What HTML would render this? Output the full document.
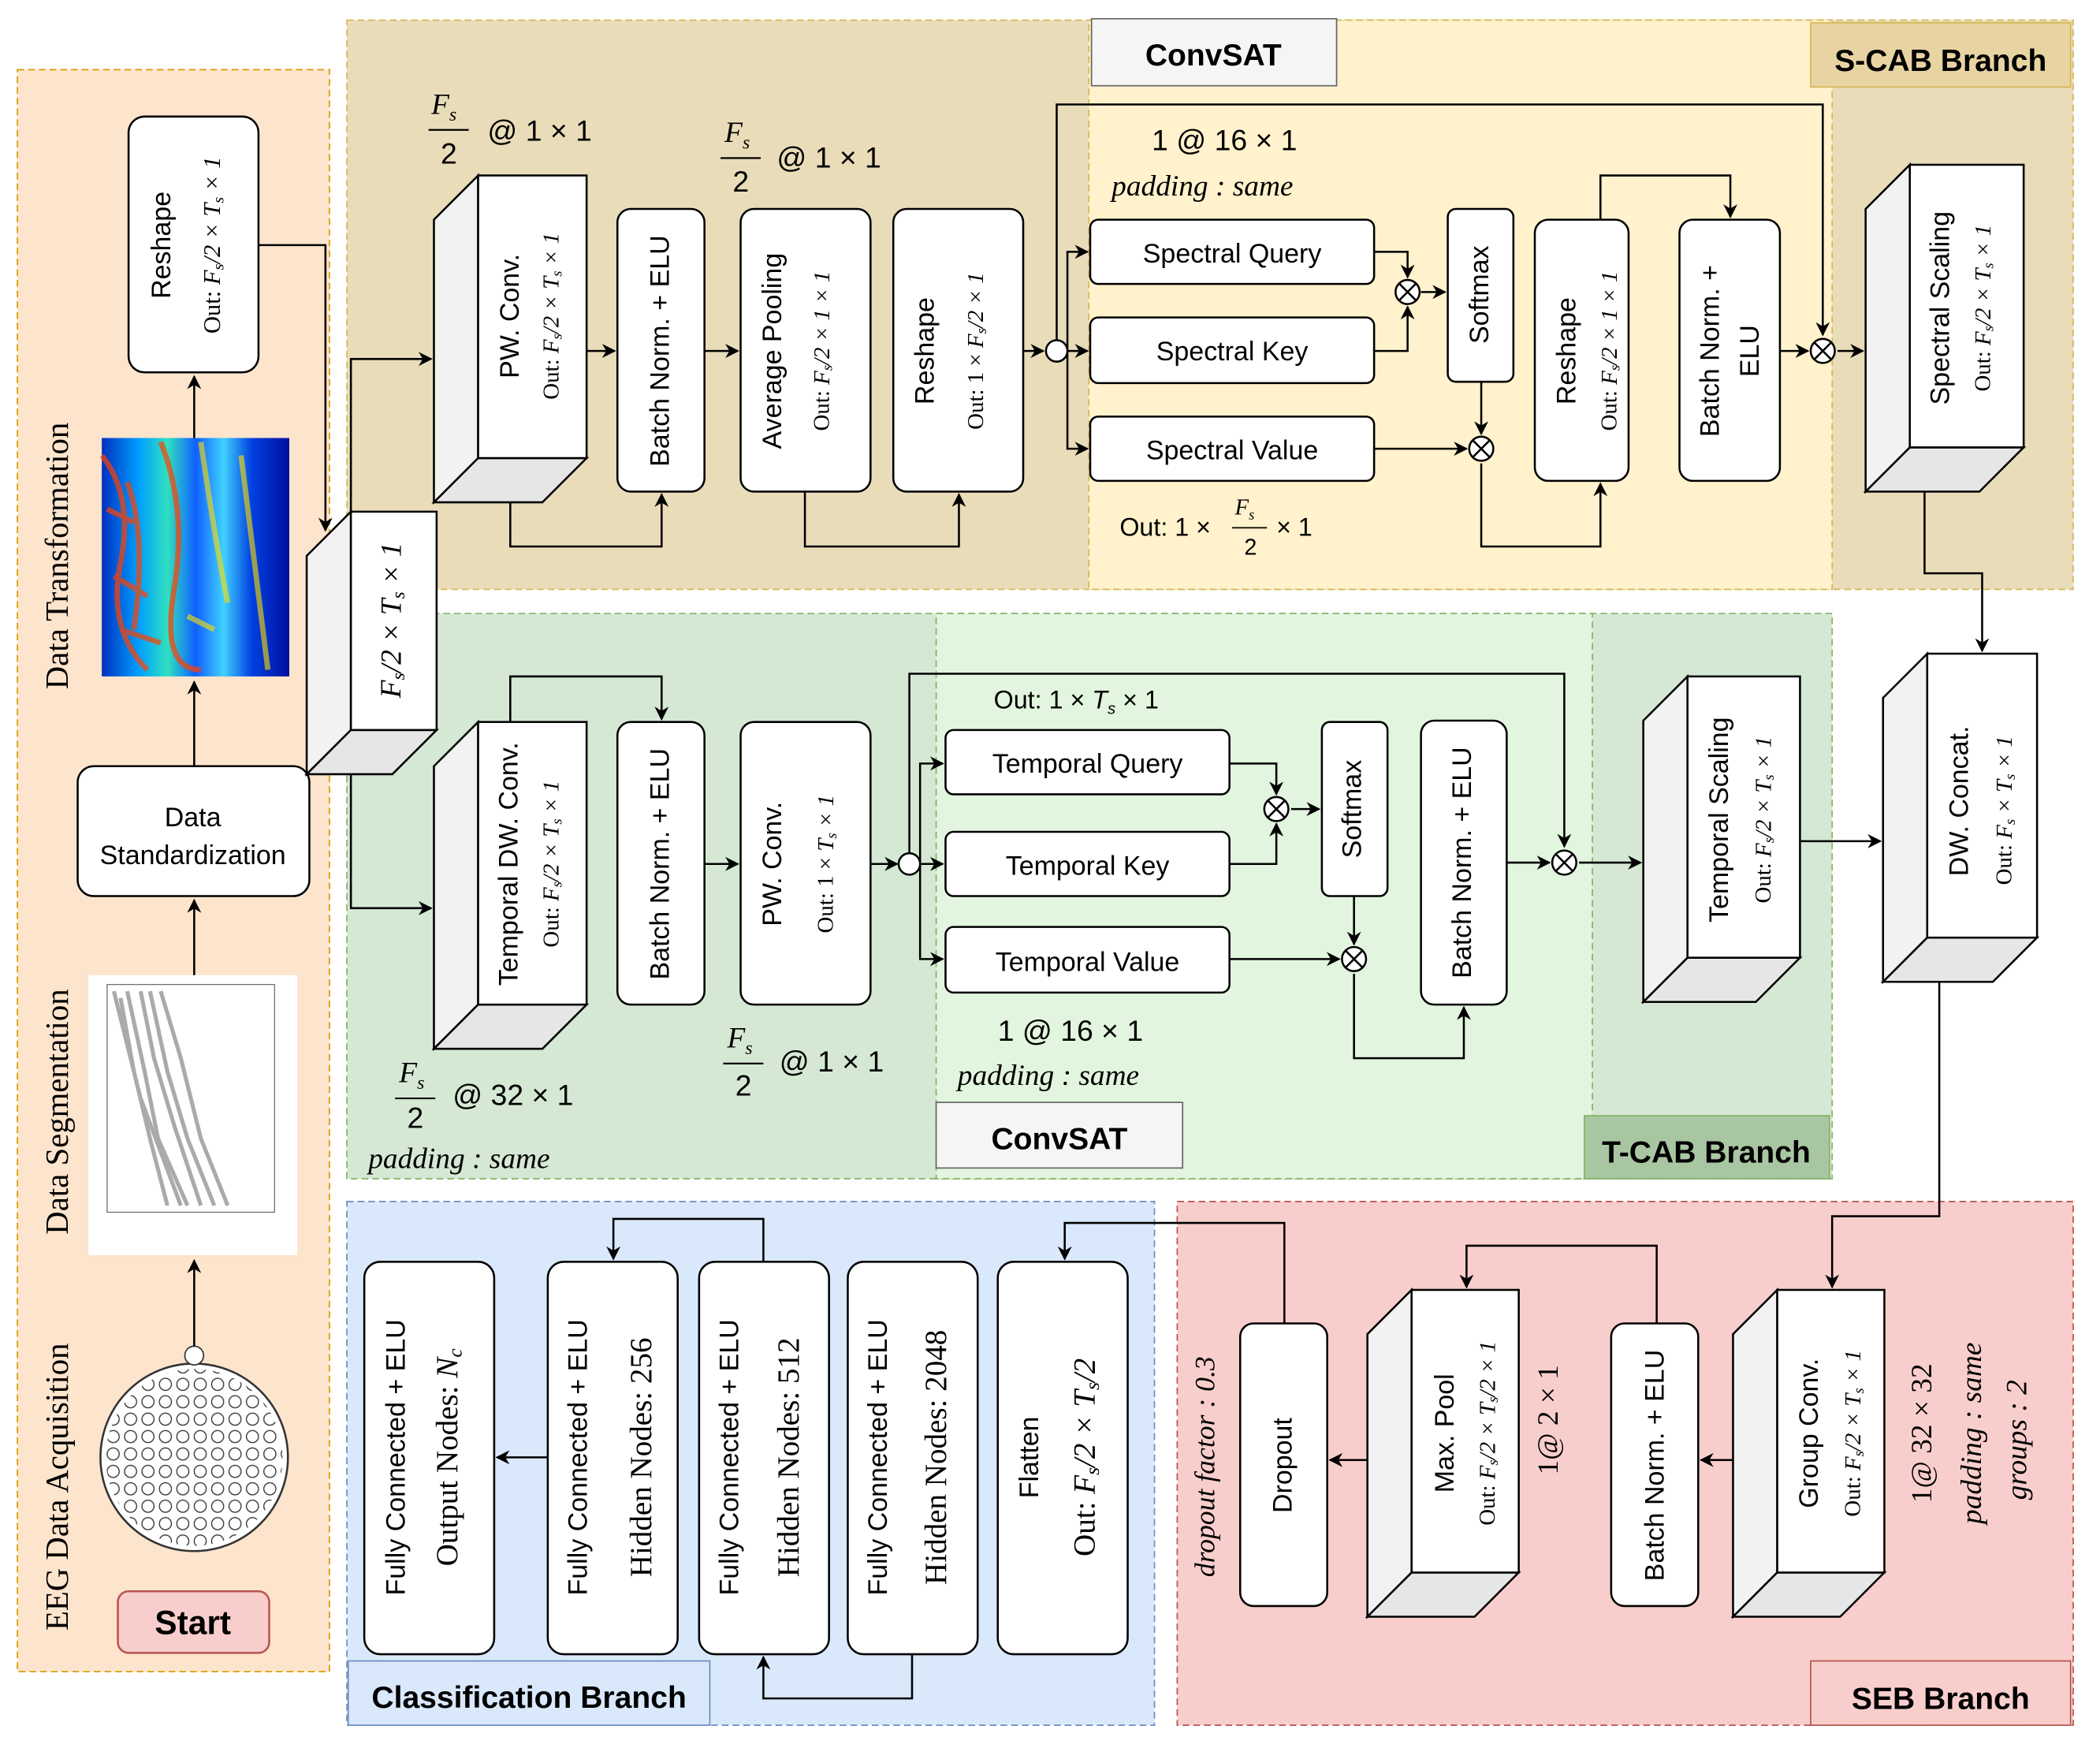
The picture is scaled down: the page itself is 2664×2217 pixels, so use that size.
<!DOCTYPE html>
<html><head><meta charset="utf-8"><style>
html,body{margin:0;padding:0;background:#fff}
svg{display:block}
text{font-family:"Liberation Sans",sans-serif;fill:#000}
.m{font-family:"Liberation Serif",serif}
.i{font-family:"Liberation Serif",serif;font-style:italic}
.bx{fill:#fff;stroke:#000;stroke-width:1.5}
.ln{fill:none;stroke:#000;stroke-width:1.5}
</style></head><body>
<svg width="2664" height="2217" viewBox="0 0 1568 1305" preserveAspectRatio="none" xmlns="http://www.w3.org/2000/svg">
<defs>
<marker id="a" viewBox="0 0 10 10" refX="9" refY="5" markerWidth="7" markerHeight="7" orient="auto"><path d="M0,0 L10,5 L0,10 L3,5z" fill="#000"/></marker>
<linearGradient id="jet" x1="0" x2="1" y1="0" y2="0">
<stop offset="0" stop-color="#0030c0"/><stop offset="0.2" stop-color="#00a0ff"/><stop offset="0.35" stop-color="#30e0c0"/><stop offset="0.5" stop-color="#1060ff"/><stop offset="0.65" stop-color="#40d0ff"/><stop offset="0.8" stop-color="#0040e0"/><stop offset="1" stop-color="#0010a0"/></linearGradient>
<pattern id="el" width="13" height="13" patternUnits="userSpaceOnUse"><circle cx="6.5" cy="6.5" r="4.5" fill="#fff" stroke="#333" stroke-width="0.8"/></pattern>
</defs>

<rect x="13" y="52" width="233" height="1196" fill="#fde4cd" stroke="#d79b00" stroke-dasharray="5,3"/>
<rect x="259" y="15" width="1289" height="425" fill="#e9dcb9" stroke="#d6b656" stroke-dasharray="5,3"/>
<rect x="813" y="15" width="555" height="425" fill="#fff2cc" stroke="#d6b656" stroke-dasharray="5,3"/>
<rect x="1352" y="17" width="194" height="48" fill="#e8d4a2" stroke="#d6b656"/>
<text x="1449" y="53" text-anchor="middle" font-size="23" font-weight="bold">S-CAB Branch</text>
<rect x="815" y="14" width="183" height="50" fill="#f5f5f5" stroke="#666"/>
<text x="906" y="49" text-anchor="middle" font-size="23" font-weight="bold" fill="#333">ConvSAT</text>

<rect x="259" y="458" width="1109" height="422" fill="#d5e8d4" stroke="#82b366" stroke-dasharray="5,3"/>
<rect x="699" y="458" width="490" height="422" fill="#e2f5de" stroke="#82b366" stroke-dasharray="5,3"/>
<rect x="1183" y="833" width="183" height="47" fill="#a9c6a2" stroke="#82b366"/>
<text x="1274" y="868" text-anchor="middle" font-size="23" font-weight="bold">T-CAB Branch</text>
<rect x="699" y="823" width="184" height="49" fill="#f5f5f5" stroke="#666"/>
<text x="791" y="858" text-anchor="middle" font-size="23" font-weight="bold" fill="#333">ConvSAT</text>

<rect x="259" y="897" width="603" height="391" fill="#dae8fc" stroke="#6c8ebf" stroke-dasharray="5,3"/>
<rect x="260" y="1240" width="270" height="48" fill="#dae8fc" stroke="#6c8ebf"/>
<text x="395" y="1275" text-anchor="middle" font-size="23" font-weight="bold">Classification Branch</text>
<rect x="879" y="897" width="669" height="391" fill="#f8cecc" stroke="#b85450" stroke-dasharray="5,3"/>
<rect x="1352" y="1240" width="194" height="48" fill="#f8cecc" stroke="#b85450"/>
<text x="1449" y="1276" text-anchor="middle" font-size="23" font-weight="bold">SEB Branch</text>

<text class="m" transform="rotate(-90 45 415)" x="45" y="415" text-anchor="middle" dominant-baseline="middle" font-size="24">Data Transformation</text>
<text class="m" transform="rotate(-90 45 830)" x="45" y="830" text-anchor="middle" dominant-baseline="middle" font-size="24">Data Segmentation</text>
<text class="m" transform="rotate(-90 45 1110)" x="45" y="1110" text-anchor="middle" dominant-baseline="middle" font-size="24">EEG Data Acquisition</text>

<rect class="bx" x="96" y="87" width="97" height="191" rx="12"/>
<text transform="rotate(-90 122 183)" x="122" y="183" text-anchor="middle" dominant-baseline="middle" font-size="20">Reshape</text>
<text class="m" transform="rotate(-90 160 183)" x="160" y="183" text-anchor="middle" dominant-baseline="middle" font-size="18">Out: <tspan font-style="italic">F<tspan font-size="12" dy="4">s</tspan><tspan dy="-4">/2 × T</tspan><tspan font-size="12" dy="4">s</tspan><tspan dy="-4"> × 1</tspan></tspan></text>
<rect x="76" y="327" width="140" height="178" fill="url(#jet)"/>
<path d="M76,340 Q100,370 90,420 T110,500 M120,330 Q140,380 130,440 T150,500 M95,360 Q110,400 100,470 M80,380 L100,390 M85,430 L110,445 M90,470 L120,480" stroke="#ff4000" stroke-width="4" fill="none" opacity="0.7"/>
<path d="M150,330 Q160,400 170,450 M180,340 Q190,420 200,500 M140,460 L160,470" stroke="#ffe000" stroke-width="4" fill="none" opacity="0.6"/>
<rect class="bx" x="58" y="572" width="173" height="97" rx="12"/>
<text x="144" y="617" text-anchor="middle" font-size="20">Data</text>
<text x="144" y="645" text-anchor="middle" font-size="20">Standardization</text>
<rect x="66" y="728" width="156" height="209" fill="#fff"/>
<rect x="80" y="735" width="125" height="170" fill="none" stroke="#666" stroke-width="0.7"/>
<path d="M85,740 L95,780 L105,820 L120,860 L135,900 M105,740 L115,790 L130,840 L150,900 M120,740 L135,790 L150,850 L170,900 M90,745 L100,800 L112,850 L125,900 M95,740 L108,800 L118,850 L140,900 M112,740 L125,800 L140,850 L160,900" stroke="#555" stroke-width="3" fill="none" opacity="0.5"/>
<circle cx="145" cy="1088" r="70" fill="#fff" stroke="#333" stroke-width="1.5"/>
<circle cx="145" cy="1088" r="66" fill="url(#el)"/>
<circle cx="145" cy="1012" r="7" fill="#fff" stroke="#333"/>
<rect x="88" y="1188" width="113" height="46" rx="8" fill="#f8cecc" stroke="#b85450" stroke-width="1.5"/>
<text x="144" y="1220" text-anchor="middle" font-size="25" font-weight="bold">Start</text>

<g class="ln" marker-end="url(#a)">
<path d="M145,572 V509"/><path d="M145,327 V281"/><path d="M145,728 V672"/><path d="M145,1005 V941"/>
</g>

<g stroke="#000" stroke-width="1.5">
<path d="M229,415 L262,382 L262,545 L229,578Z" fill="#f2f2f2"/><path d="M229,578 L262,545 L326,545 L293,578Z" fill="#e6e6e6"/><rect x="262" y="382" width="64" height="163" fill="#fff"/>
<path d="M324,164 L357,131 L357,342 L324,375Z" fill="#f2f2f2"/><path d="M324,375 L357,342 L438,342 L405,375Z" fill="#e6e6e6"/><rect x="357" y="131" width="81" height="211" fill="#fff"/>
<path d="M1393,156 L1426,123 L1426,334 L1393,367Z" fill="#f2f2f2"/><path d="M1393,367 L1426,334 L1511,334 L1478,367Z" fill="#e6e6e6"/><rect x="1426" y="123" width="85" height="211" fill="#fff"/>
<path d="M324,572 L357,539 L357,750 L324,783Z" fill="#f2f2f2"/><path d="M324,783 L357,750 L438,750 L405,783Z" fill="#e6e6e6"/><rect x="357" y="539" width="81" height="211" fill="#fff"/>
<path d="M1227,538 L1260,505 L1260,715 L1227,748Z" fill="#f2f2f2"/><path d="M1227,748 L1260,715 L1344,715 L1311,748Z" fill="#e6e6e6"/><rect x="1260" y="505" width="84" height="210" fill="#fff"/>
<path d="M1406,521 L1439,488 L1439,700 L1406,733Z" fill="#f2f2f2"/><path d="M1406,733 L1439,700 L1521,700 L1488,733Z" fill="#e6e6e6"/><rect x="1439" y="488" width="82" height="212" fill="#fff"/>
<path d="M1021,996 L1054,963 L1054,1174 L1021,1207Z" fill="#f2f2f2"/><path d="M1021,1207 L1054,1174 L1134,1174 L1101,1207Z" fill="#e6e6e6"/><rect x="1054" y="963" width="80" height="211" fill="#fff"/>
<path d="M1294,996 L1327,963 L1327,1174 L1294,1207Z" fill="#f2f2f2"/><path d="M1294,1207 L1327,1174 L1407,1174 L1374,1207Z" fill="#e6e6e6"/><rect x="1327" y="963" width="80" height="211" fill="#fff"/>
</g>

<g>
<rect class="bx" x="461" y="156" width="65" height="211" rx="10"/>
<rect class="bx" x="553" y="156" width="97" height="211" rx="10"/>
<rect class="bx" x="667" y="156" width="97" height="211" rx="10"/>
<rect class="bx" x="814" y="164" width="212" height="48" rx="6"/>
<rect class="bx" x="814" y="237" width="212" height="49" rx="6"/>
<rect class="bx" x="814" y="311" width="212" height="48" rx="6"/>
<rect class="bx" x="1081" y="156" width="49" height="129" rx="6"/>
<rect class="bx" x="1146" y="164" width="70" height="195" rx="10"/>
<rect class="bx" x="1254" y="164" width="75" height="195" rx="10"/>
<rect class="bx" x="461" y="539" width="65" height="211" rx="10"/>
<rect class="bx" x="553" y="539" width="97" height="211" rx="10"/>
<rect class="bx" x="706" y="545" width="212" height="48" rx="6"/>
<rect class="bx" x="706" y="621" width="212" height="48" rx="6"/>
<rect class="bx" x="706" y="692" width="212" height="49" rx="6"/>
<rect class="bx" x="987" y="539" width="49" height="130" rx="6"/>
<rect class="bx" x="1061" y="538" width="64" height="212" rx="10"/>
<rect class="bx" x="272" y="942" width="97" height="293" rx="12"/>
<rect class="bx" x="409" y="942" width="97" height="293" rx="12"/>
<rect class="bx" x="522" y="942" width="97" height="293" rx="12"/>
<rect class="bx" x="633" y="942" width="97" height="293" rx="12"/>
<rect class="bx" x="745" y="942" width="97" height="293" rx="12"/>
<rect class="bx" x="926" y="988" width="65" height="211" rx="10"/>
<rect class="bx" x="1203" y="988" width="65" height="211" rx="10"/>
</g>

<g font-size="20" text-anchor="middle">
<text x="920" y="196">Spectral Query</text>
<text x="920" y="269">Spectral Key</text>
<text x="920" y="343">Spectral Value</text>
<text x="812" y="577">Temporal Query</text>
<text x="812" y="653">Temporal Key</text>
<text x="812" y="725">Temporal Value</text>
</g>

<g font-size="20" text-anchor="middle" dominant-baseline="middle">
<text transform="rotate(-90 382 236)" x="382" y="236">PW. Conv.</text>
<text class="m" font-size="17" transform="rotate(-90 413 236)" x="413" y="236">Out: <tspan font-style="italic">F<tspan font-size="11" dy="4">s</tspan><tspan dy="-4">/2 × T</tspan><tspan font-size="11" dy="4">s</tspan><tspan dy="-4"> × 1</tspan></tspan></text>
<text transform="rotate(-90 494 262)" x="494" y="262">Batch Norm. + ELU</text>
<text transform="rotate(-90 578 262)" x="578" y="262">Average Pooling</text>
<text class="m" font-size="17" transform="rotate(-90 615 262)" x="615" y="262">Out: <tspan font-style="italic">F<tspan font-size="11" dy="4">s</tspan><tspan dy="-4">/2 × 1 × 1</tspan></tspan></text>
<text transform="rotate(-90 692 262)" x="692" y="262">Reshape</text>
<text class="m" font-size="17" transform="rotate(-90 730 262)" x="730" y="262">Out: 1 × <tspan font-style="italic">F<tspan font-size="11" dy="4">s</tspan><tspan dy="-4">/2 × 1</tspan></tspan></text>
<text transform="rotate(-90 1106 220)" x="1106" y="220">Softmax</text>
<text transform="rotate(-90 1171 262)" x="1171" y="262">Reshape</text>
<text class="m" font-size="17" transform="rotate(-90 1203 262)" x="1203" y="262">Out: <tspan font-style="italic">F<tspan font-size="11" dy="4">s</tspan><tspan dy="-4">/2 × 1 × 1</tspan></tspan></text>
<text transform="rotate(-90 1278 262)" x="1278" y="262">Batch Norm. +</text>
<text transform="rotate(-90 1308 262)" x="1308" y="262">ELU</text>
<text transform="rotate(-90 1450 230)" x="1450" y="230">Spectral Scaling</text>
<text class="m" font-size="17" transform="rotate(-90 1482 230)" x="1482" y="230">Out: <tspan font-style="italic">F<tspan font-size="11" dy="4">s</tspan><tspan dy="-4">/2 × T</tspan><tspan font-size="11" dy="4">s</tspan><tspan dy="-4"> × 1</tspan></tspan></text>
<text class="i" font-size="22" transform="rotate(-90 294 463)" x="294" y="463">F<tspan font-size="14" dy="5">s</tspan><tspan dy="-5">/2 × T</tspan><tspan font-size="14" dy="5">s</tspan><tspan dy="-5"> × 1</tspan></text>

<text transform="rotate(-90 381 645)" x="381" y="645">Temporal DW. Conv.</text>
<text class="m" font-size="17" transform="rotate(-90 413 645)" x="413" y="645">Out: <tspan font-style="italic">F<tspan font-size="11" dy="4">s</tspan><tspan dy="-4">/2 × T</tspan><tspan font-size="11" dy="4">s</tspan><tspan dy="-4"> × 1</tspan></tspan></text>
<text transform="rotate(-90 494 645)" x="494" y="645">Batch Norm. + ELU</text>
<text transform="rotate(-90 578 645)" x="578" y="645">PW. Conv.</text>
<text class="m" font-size="17" transform="rotate(-90 618 645)" x="618" y="645">Out: 1 × <tspan font-style="italic">T<tspan font-size="11" dy="4">s</tspan><tspan dy="-4"> × 1</tspan></tspan></text>
<text transform="rotate(-90 1011 604)" x="1011" y="604">Softmax</text>
<text transform="rotate(-90 1093 644)" x="1093" y="644">Batch Norm. + ELU</text>
<text transform="rotate(-90 1285 612)" x="1285" y="612">Temporal Scaling</text>
<text class="m" font-size="17" transform="rotate(-90 1318 612)" x="1318" y="612">Out: <tspan font-style="italic">F<tspan font-size="11" dy="4">s</tspan><tspan dy="-4">/2 × T</tspan><tspan font-size="11" dy="4">s</tspan><tspan dy="-4"> × 1</tspan></tspan></text>
<text transform="rotate(-90 1464 598)" x="1464" y="598">DW. Concat.</text>
<text class="m" font-size="17" transform="rotate(-90 1498 605)" x="1498" y="605">Out: <tspan font-style="italic">F<tspan font-size="11" dy="4">s</tspan><tspan dy="-4"> × T</tspan><tspan font-size="11" dy="4">s</tspan><tspan dy="-4"> × 1</tspan></tspan></text>

<text transform="rotate(-90 297 1088)" x="297" y="1088">Fully Connected + ELU</text>
<text class="m" font-size="23" transform="rotate(-90 336 1088)" x="336" y="1088">Output Nodes: <tspan font-style="italic">N<tspan font-size="15" dy="5">c</tspan></tspan></text>
<text transform="rotate(-90 433 1088)" x="433" y="1088">Fully Connected + ELU</text>
<text class="m" font-size="23" transform="rotate(-90 481 1088)" x="481" y="1088">Hidden Nodes: 256</text>
<text transform="rotate(-90 546 1088)" x="546" y="1088">Fully Connected + ELU</text>
<text class="m" font-size="23" transform="rotate(-90 591 1088)" x="591" y="1088">Hidden Nodes: 512</text>
<text transform="rotate(-90 657 1088)" x="657" y="1088">Fully Connected + ELU</text>
<text class="m" font-size="23" transform="rotate(-90 701 1088)" x="701" y="1088">Hidden Nodes: 2048</text>
<text transform="rotate(-90 770 1088)" x="770" y="1088">Flatten</text>
<text class="m" font-size="23" transform="rotate(-90 812 1088)" x="812" y="1088">Out: <tspan font-style="italic">F<tspan font-size="15" dy="5">s</tspan><tspan dy="-5">/2 × T</tspan><tspan font-size="15" dy="5">s</tspan><tspan dy="-5">/2</tspan></tspan></text>

<text class="i" font-size="21" transform="rotate(-90 902 1095)" x="902" y="1095">dropout factor : 0.3</text>
<text transform="rotate(-90 959 1094)" x="959" y="1094">Dropout</text>
<text transform="rotate(-90 1080 1070)" x="1080" y="1070">Max. Pool</text>
<text class="m" font-size="17" transform="rotate(-90 1112 1070)" x="1112" y="1070">Out: <tspan font-style="italic">F<tspan font-size="11" dy="4">s</tspan><tspan dy="-4">/2 × T</tspan><tspan font-size="11" dy="4">s</tspan><tspan dy="-4">/2 × 1</tspan></tspan></text>
<text class="m" font-size="22" transform="rotate(-90 1158 1060)" x="1158" y="1060">1@ 2 × 1</text>
<text transform="rotate(-90 1237 1094)" x="1237" y="1094">Batch Norm. + ELU</text>
<text transform="rotate(-90 1352 1070)" x="1352" y="1070">Group Conv.</text>
<text class="m" font-size="17" transform="rotate(-90 1385 1070)" x="1385" y="1070">Out: <tspan font-style="italic">F<tspan font-size="11" dy="4">s</tspan><tspan dy="-4">/2 × T</tspan><tspan font-size="11" dy="4">s</tspan><tspan dy="-4"> × 1</tspan></tspan></text>
<text class="m" font-size="22" transform="rotate(-90 1437 1070)" x="1437" y="1070">1@ 32 × 32</text>
<text class="i" font-size="22" transform="rotate(-90 1474 1070)" x="1474" y="1070">padding : same</text>
<text class="i" font-size="22" transform="rotate(-90 1508 1075)" x="1508" y="1075">groups : 2</text>
</g>

<g class="m" font-size="22">
<text class="i" x="322" y="85">F<tspan font-size="14" dy="5">s</tspan></text><line x1="320" y1="97" x2="350" y2="97" stroke="#000" stroke-width="1.3"/><text x="329" y="122">2</text>
<text x="364" y="105">@ 1 × 1</text>
<text class="i" x="541" y="106">F<tspan font-size="14" dy="5">s</tspan></text><line x1="538" y1="118" x2="568" y2="118" stroke="#000" stroke-width="1.3"/><text x="547" y="143">2</text>
<text x="580" y="125">@ 1 × 1</text>
<text x="860" y="112">1 @ 16 × 1</text>
<text class="i" x="830" y="146">padding : same</text>
<text font-size="19" x="836" y="400">Out: 1 × </text><text class="i" font-size="17" x="922" y="384">F<tspan font-size="11" dy="4">s</tspan></text><line x1="920" y1="394" x2="946" y2="394" stroke="#000"/><text font-size="17" x="929" y="414">2</text><text font-size="19" x="953" y="400">× 1</text>
<text font-size="19" x="742" y="529">Out: 1 × <tspan font-style="italic">T<tspan font-size="12" dy="4">s</tspan></tspan><tspan dy="-4"> × 1</tspan></text>
<text class="i" x="298" y="808">F<tspan font-size="14" dy="5">s</tspan></text><line x1="295" y1="820" x2="325" y2="820" stroke="#000" stroke-width="1.3"/><text x="304" y="842">2</text>
<text x="338" y="825">@ 32 × 1</text>
<text class="i" x="275" y="872">padding : same</text>
<text class="i" x="543" y="782">F<tspan font-size="14" dy="5">s</tspan></text><line x1="540" y1="794" x2="570" y2="794" stroke="#000" stroke-width="1.3"/><text x="549" y="818">2</text>
<text x="582" y="800">@ 1 × 1</text>
<text x="745" y="777">1 @ 16 × 1</text>
<text class="i" x="715" y="810">padding : same</text>
</g>

<g class="ln" marker-end="url(#a)">
<path d="M193,183 H243 V396"/>
<path d="M262,382 V268 H322"/>
<path d="M262,578 V678 H322"/>
<path d="M381,375 V408 H494 V369"/>
<path d="M438,262 H459"/>
<path d="M526,262 H551"/>
<path d="M601,367 V408 H716 V369"/>
<path d="M764,262 H779"/>
<path d="M789,254 V78 H1361 V250"/>
<path d="M797,262 H812"/>
<path d="M797,262 V188 H812"/>
<path d="M797,262 V335 H812"/>
<path d="M1026,188 H1051 V207"/>
<path d="M1026,262 H1051 V229"/>
<path d="M1061,218 H1079"/>
<path d="M1106,285 V324"/>
<path d="M1026,335 H1095"/>
<path d="M1106,346 V408 H1195 V361"/>
<path d="M1195,164 V131 H1292 V162"/>
<path d="M1329,262 H1350"/>
<path d="M1372,262 H1391"/>
<path d="M1437,367 V428 H1480 V486"/>
<path d="M381,539 V505 H494 V537"/>
<path d="M526,645 H551"/>
<path d="M650,645 H670"/>
<path d="M679,637 V503 H1168 V632"/>
<path d="M687,645 H704"/>
<path d="M687,645 V570 H704"/>
<path d="M687,645 V716 H704"/>
<path d="M918,570 H953 V593"/>
<path d="M918,645 H953 V615"/>
<path d="M964,604 H985"/>
<path d="M1011,669 V705"/>
<path d="M918,716 H1000"/>
<path d="M1011,727 V790 H1093 V752"/>
<path d="M1125,644 H1157"/>
<path d="M1179,644 H1225"/>
<path d="M1344,628 H1404"/>
<path d="M1448,733 V908 H1368 V961"/>
<path d="M1294,1090 H1270"/>
<path d="M1237,988 V930 H1095 V961"/>
<path d="M1021,1090 H993"/>
<path d="M959,988 V913 H795 V940"/>
<path d="M681,1235 V1268 H570 V1237"/>
<path d="M570,942 V910 H458 V940"/>
<path d="M409,1088 H371"/>
</g>

<g fill="#fff" stroke="#000" stroke-width="1.5">
<circle cx="789" cy="262" r="8"/><circle cx="679" cy="645" r="8"/>
<circle cx="1051" cy="218" r="9"/><circle cx="1106" cy="335" r="9"/><circle cx="1361" cy="262" r="9"/>
<circle cx="953" cy="604" r="9"/><circle cx="1011" cy="716" r="9"/><circle cx="1168" cy="644" r="9"/>
</g>
<g stroke="#000" stroke-width="1.5">
<path d="M1045,212 l12,12 m0,-12 l-12,12"/><path d="M1100,329 l12,12 m0,-12 l-12,12"/><path d="M1355,256 l12,12 m0,-12 l-12,12"/>
<path d="M947,598 l12,12 m0,-12 l-12,12"/><path d="M1005,710 l12,12 m0,-12 l-12,12"/><path d="M1162,638 l12,12 m0,-12 l-12,12"/>
</g>
</svg>
</body></html>
